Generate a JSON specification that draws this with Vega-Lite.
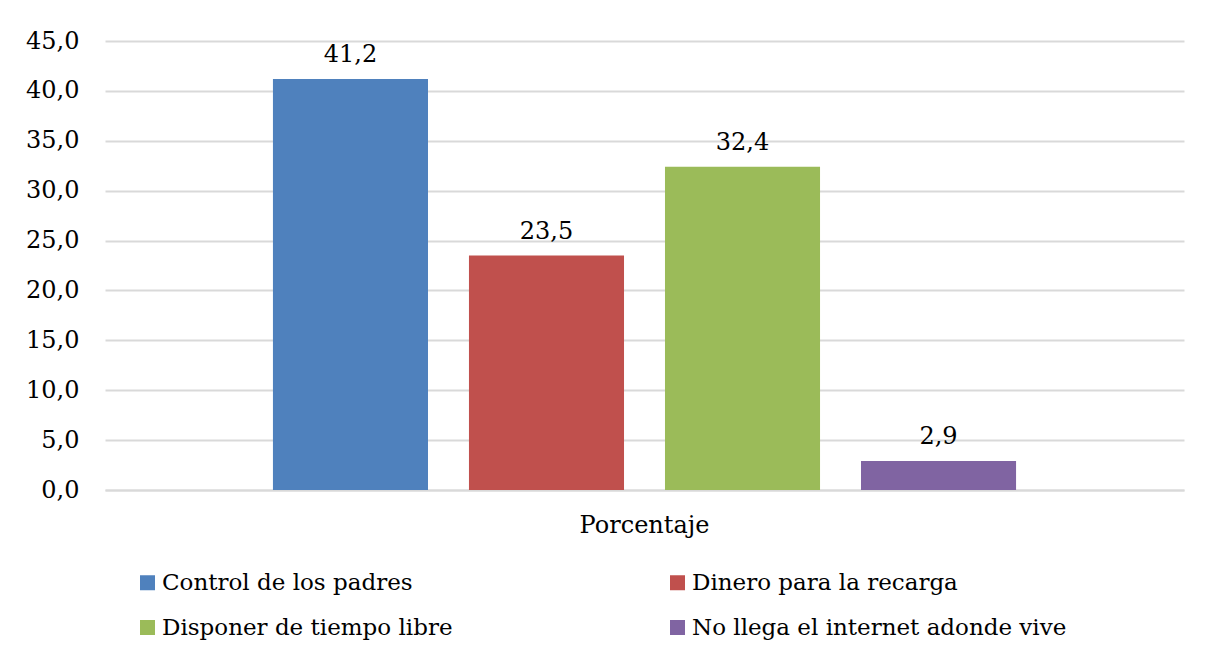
{
  "$schema": "https://vega.github.io/schema/vega-lite/v6.json",
  "width": 1079,
  "height": 449,
  "autosize": {"type": "none"},
  "padding": {"left": 105, "top": 41, "right": 30, "bottom": 170},
  "background": "white",
  "config": {
    "font": "DejaVu Serif",
    "view": {"stroke": null},
    "locale": {"number": {"decimal": ",", "thousands": ".", "grouping": [3], "currency": ["", ""]}}
  },
  "data": {
    "values": [
      {"grupo": "Porcentaje", "categoria": "Control de los padres", "valor": 41.2},
      {"grupo": "Porcentaje", "categoria": "Dinero para la recarga", "valor": 23.5},
      {"grupo": "Porcentaje", "categoria": "Disponer de tiempo libre", "valor": 32.4},
      {"grupo": "Porcentaje", "categoria": "No llega el internet adonde vive", "valor": 2.9}
    ]
  },
  "encoding": {
    "x": {
      "field": "grupo",
      "type": "nominal",
      "scale": {"paddingInner": 0, "paddingOuter": 0.226},
      "axis": {
        "title": null,
        "labelAngle": 0,
        "ticks": false,
        "domainColor": "#d9d9d9",
        "domainWidth": 2,
        "labelPadding": 23,
        "labelFontSize": 24,
        "labelColor": "black",
        "labelFont": "DejaVu Serif"
      }
    },
    "xOffset": {
      "field": "categoria",
      "type": "nominal",
      "sort": ["Control de los padres", "Dinero para la recarga", "Disponer de tiempo libre", "No llega el internet adonde vive"],
      "scale": {"paddingInner": 0.209, "paddingOuter": 0}
    },
    "y": {
      "field": "valor",
      "type": "quantitative",
      "scale": {"domain": [0, 45], "nice": false},
      "axis": {
        "title": null,
        "values": [0, 5, 10, 15, 20, 25, 30, 35, 40, 45],
        "format": ".1f",
        "domain": false,
        "ticks": false,
        "gridColor": "#d9d9d9",
        "gridWidth": 2,
        "labelPadding": 26,
        "labelFontSize": 24,
        "labelColor": "black",
        "labelFont": "DejaVu Serif"
      }
    }
  },
  "layer": [
    {
      "mark": {"type": "bar"},
      "encoding": {
        "color": {
          "field": "categoria",
          "type": "nominal",
          "scale": {
            "domain": ["Control de los padres", "Disponer de tiempo libre", "Dinero para la recarga", "No llega el internet adonde vive"],
            "range": ["#4F81BD", "#9BBB59", "#C0504D", "#8064A2"]
          },
          "legend": {
            "title": null,
            "orient": "none",
            "legendX": 31,
            "legendY": 530,
            "columns": 2,
            "columnPadding": 213,
            "rowPadding": 21,
            "padding": 0,
            "symbolType": "square",
            "symbolSize": 225,
            "symbolStrokeWidth": 0,
            "labelOffset": 3,
            "labelFontSize": 23,
            "labelFont": "DejaVu Serif",
            "labelColor": "black",
            "labelLimit": 0
          }
        }
      }
    },
    {
      "mark": {"type": "text", "color": "black", "fontSize": 24, "font": "DejaVu Serif", "baseline": "alphabetic", "dy": -17},
      "encoding": {
        "text": {"field": "valor", "type": "quantitative", "format": ".1f"}
      }
    }
  ]
}
